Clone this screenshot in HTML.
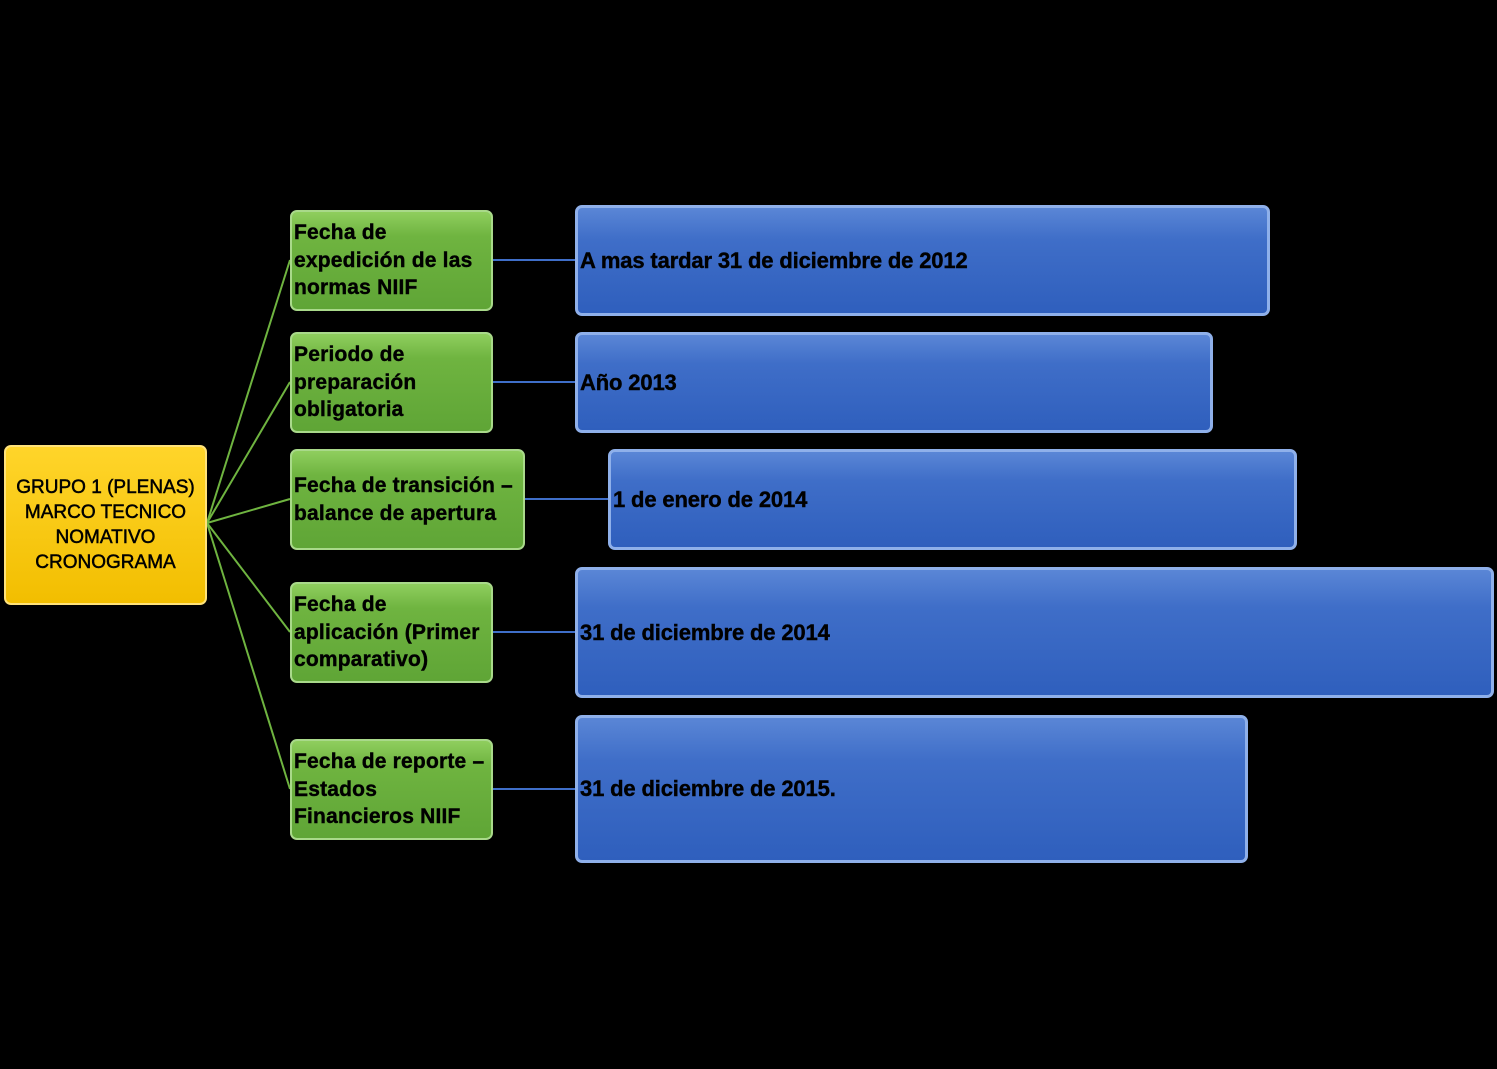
<!DOCTYPE html>
<html><head><meta charset="utf-8"><style>
body{margin:0;width:1497px;height:1069px;background:#000;position:relative;overflow:hidden;font-family:"Liberation Sans",sans-serif;}
.b{position:absolute;box-sizing:border-box;border-radius:7px;display:flex;align-items:center;font-weight:bold;color:#000;}
.g{background:linear-gradient(#8fce5e 0%,#6fb440 25%,#5fa536 100%);border:2px solid #a9d98a;font-size:21px;line-height:27.5px;letter-spacing:0.2px;padding-left:2px;-webkit-text-stroke:0.4px #000;}
.bl{background:linear-gradient(#5a86d6 0%,#3f6ec8 30%,#2f5fbd 100%);border:3px solid #8fb0ea;font-size:22px;letter-spacing:-0.15px;padding-left:2px;-webkit-text-stroke:0.4px #000;}
.y{background:linear-gradient(#ffd52a,#f2be00);border:2px solid #ffe27a;font-size:19px;line-height:25px;justify-content:center;text-align:center;font-weight:normal;-webkit-text-stroke:0.5px #000;}
</style></head><body>
<svg width="1497" height="1069" style="position:absolute;left:0;top:0">
<g stroke="#6fb440" stroke-width="2">
<line x1="207" y1="523" x2="290" y2="260"/>
<line x1="207" y1="523" x2="290" y2="382"/>
<line x1="207" y1="523" x2="290" y2="499"/>
<line x1="207" y1="523" x2="290" y2="632"/>
<line x1="207" y1="523" x2="290" y2="789"/>
</g>
<g stroke="#3f6ec8" stroke-width="2">
<line x1="493" y1="260" x2="577" y2="260"/>
<line x1="493" y1="382" x2="577" y2="382"/>
<line x1="525" y1="499" x2="610" y2="499"/>
<line x1="493" y1="632" x2="577" y2="632"/>
<line x1="493" y1="789" x2="577" y2="789"/>
</g>
</svg>
<div class="b y" style="left:4px;top:445px;width:203px;height:160px;">GRUPO 1 (PLENAS)<br>MARCO TECNICO<br>NOMATIVO<br>CRONOGRAMA</div>
<div class="b g" style="left:290px;top:210px;width:203px;height:101px;">Fecha de<br>expedición de las<br>normas NIIF</div>
<div class="b g" style="left:290px;top:332px;width:203px;height:101px;">Periodo de<br>preparación<br>obligatoria</div>
<div class="b g" style="left:290px;top:449px;width:235px;height:101px;">Fecha de transición –<br>balance de apertura</div>
<div class="b g" style="left:290px;top:582px;width:203px;height:101px;">Fecha de<br>aplicación (Primer<br>comparativo)</div>
<div class="b g" style="left:290px;top:739px;width:203px;height:101px;">Fecha de reporte –<br>Estados<br>Financieros NIIF</div>
<div class="b bl" style="left:575px;top:205px;width:695px;height:111px;">A mas tardar 31 de diciembre de 2012</div>
<div class="b bl" style="left:575px;top:332px;width:638px;height:101px;">Año 2013</div>
<div class="b bl" style="left:608px;top:449px;width:689px;height:101px;">1 de enero de 2014</div>
<div class="b bl" style="left:575px;top:567px;width:919px;height:131px;">31 de diciembre de 2014</div>
<div class="b bl" style="left:575px;top:715px;width:673px;height:148px;">31 de diciembre de 2015.</div>
</body></html>
